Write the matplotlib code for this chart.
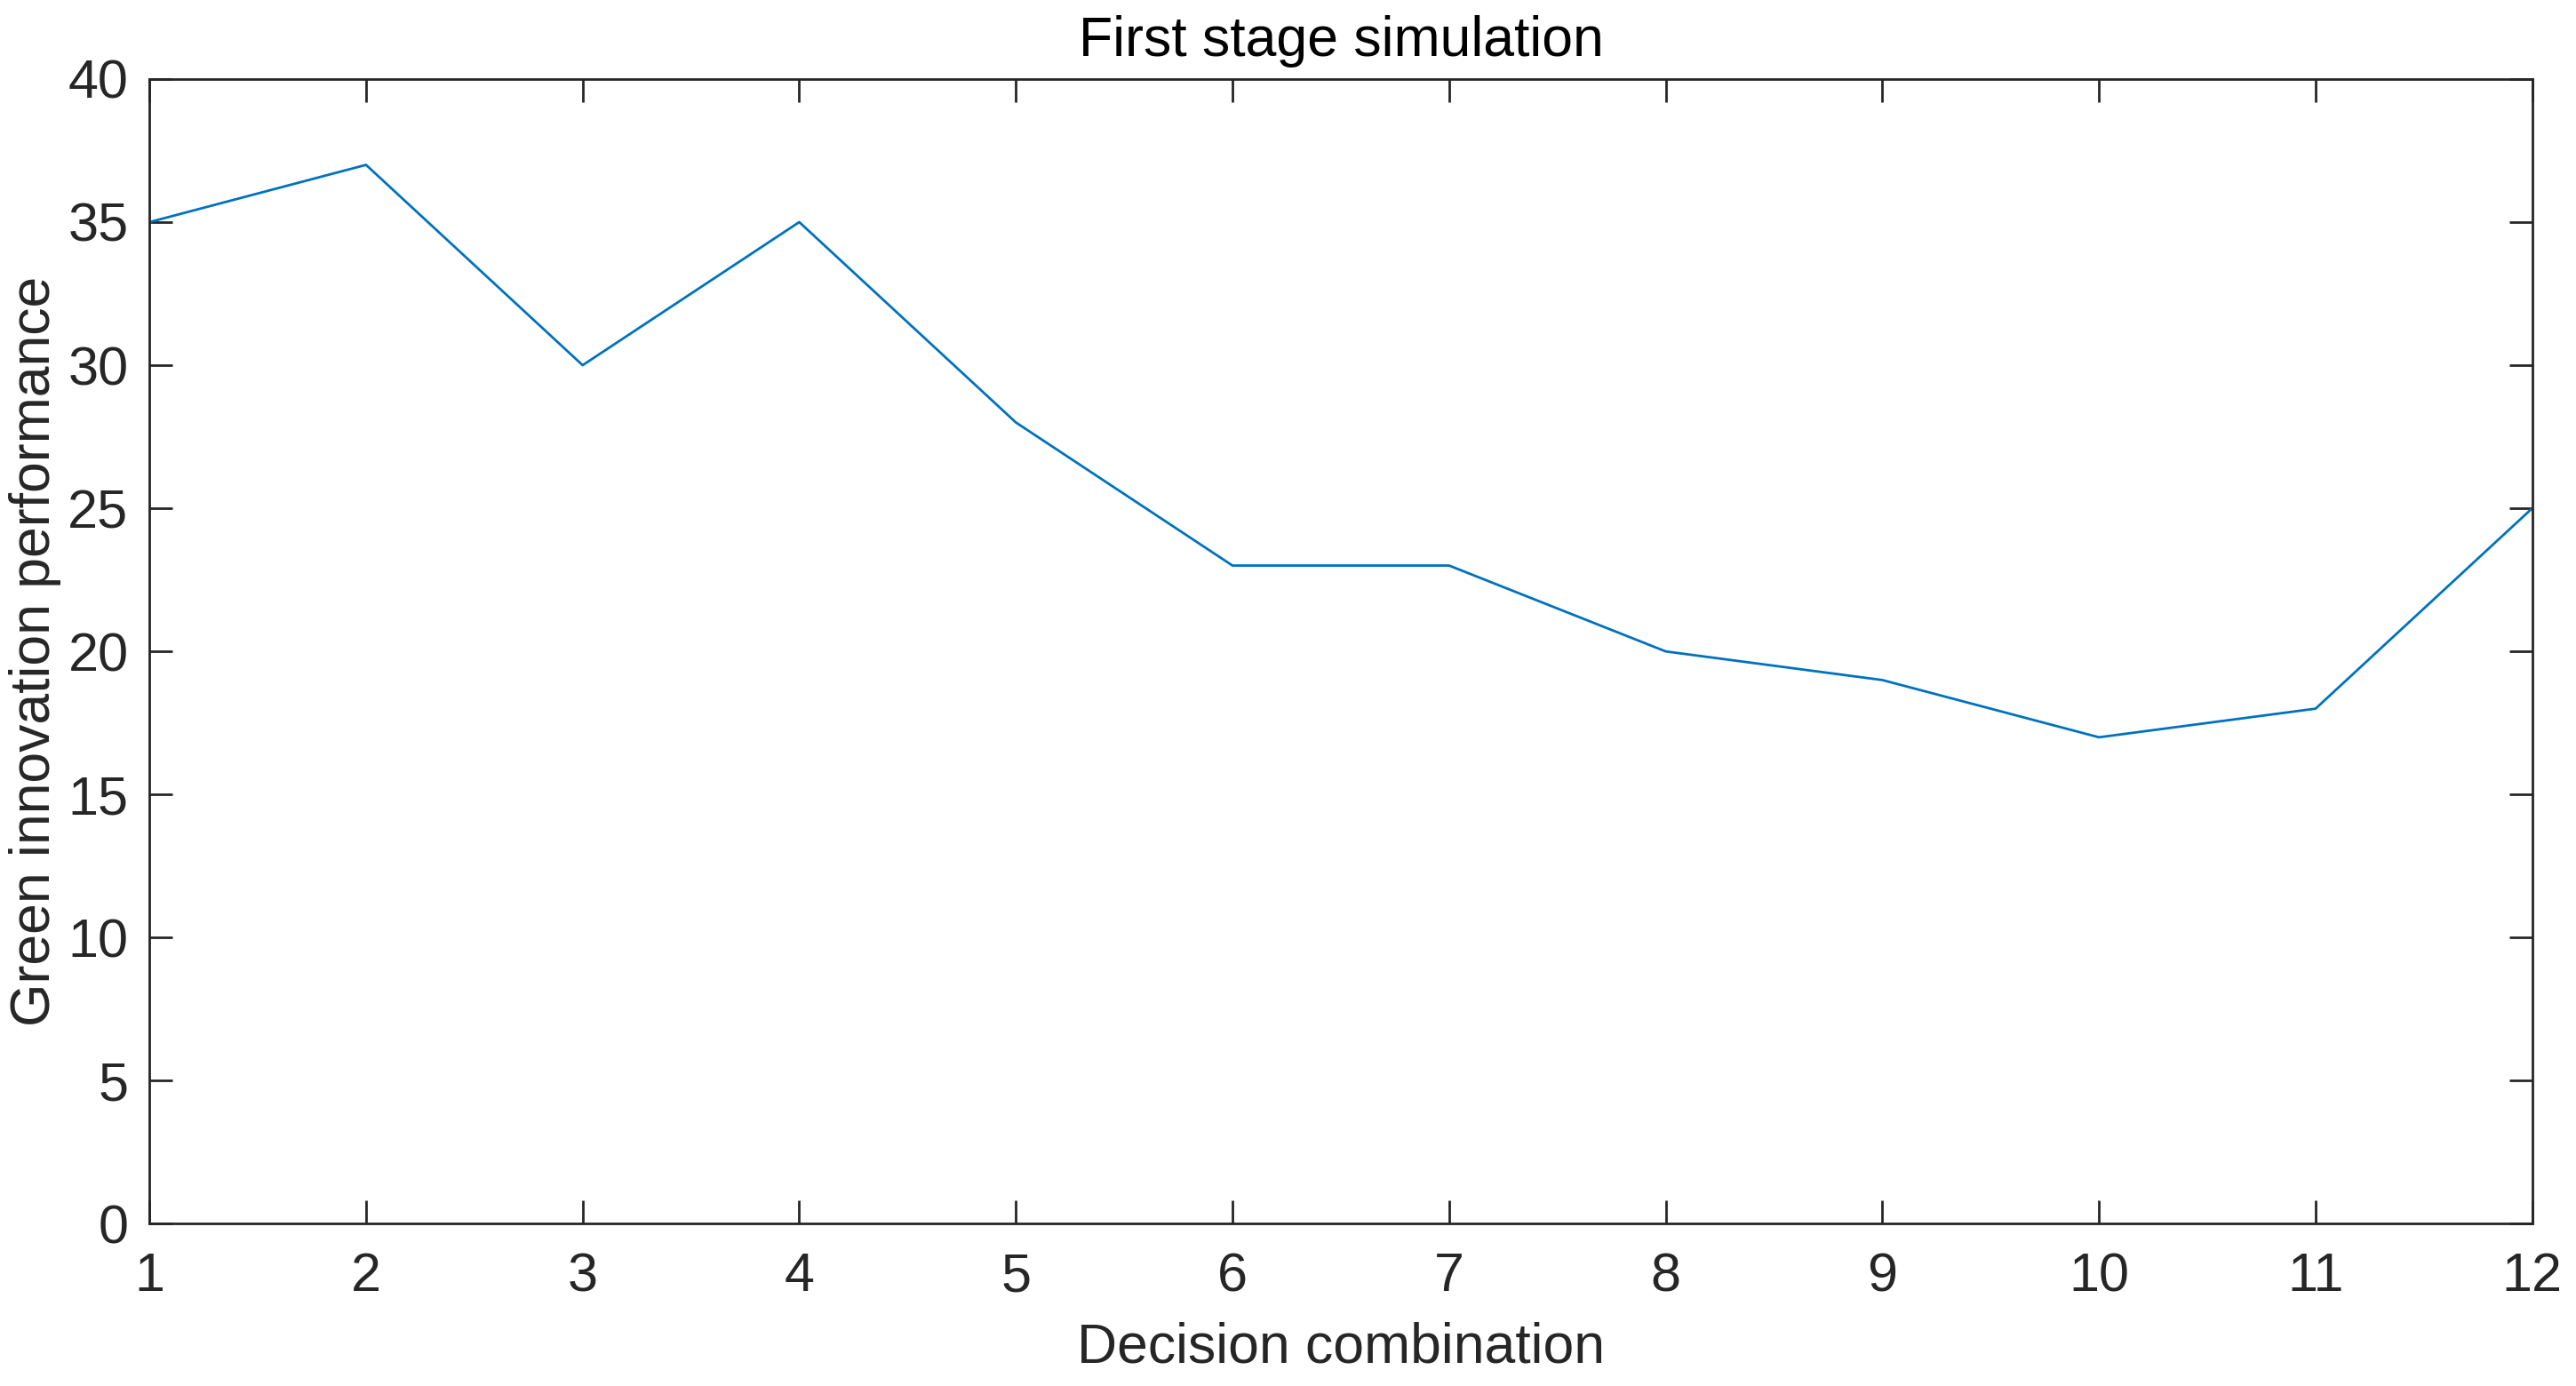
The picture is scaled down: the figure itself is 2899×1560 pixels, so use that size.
import matplotlib.pyplot as plt

# Data
combos = [1, 2, 3, 4, 5, 6, 7, 8, 9, 10, 11, 12]
performance = [35, 37, 30, 35, 28, 23, 23, 20, 19, 17, 18, 25]
y_ticks = [0, 5, 10, 15, 20, 25, 30, 35, 40]

plt.rcParams["font.family"] = ["Liberation Sans", "DejaVu Sans"]

fig = plt.figure(figsize=(28.99, 15.60), dpi=100)
ax = fig.add_axes([0.058, 0.117, 0.925, 0.826])

ax.plot(combos, performance, color="#0072BD", linewidth=2.0)

ax.set_xlim(1, 12)
ax.set_ylim(0, 40)
ax.set_xticks(combos)
ax.set_yticks(y_ticks)

ax.tick_params(direction="in", length=19, width=2, labelsize=44,
               top=True, right=True, colors="#262626")
ax.tick_params(axis="x", pad=23)
ax.tick_params(axis="y", pad=17)
for s in ax.spines.values():
    s.set_linewidth(2)
    s.set_color("#262626")

ax.set_xlabel("Decision combination", fontsize=45, color="#262626", labelpad=15)
ax.set_ylabel("Green innovation performance", fontsize=45, color="#262626", labelpad=5)
ax.set_title("First stage simulation", fontsize=45, color="black", pad=19)

fig.savefig("out.png", dpi=100)
